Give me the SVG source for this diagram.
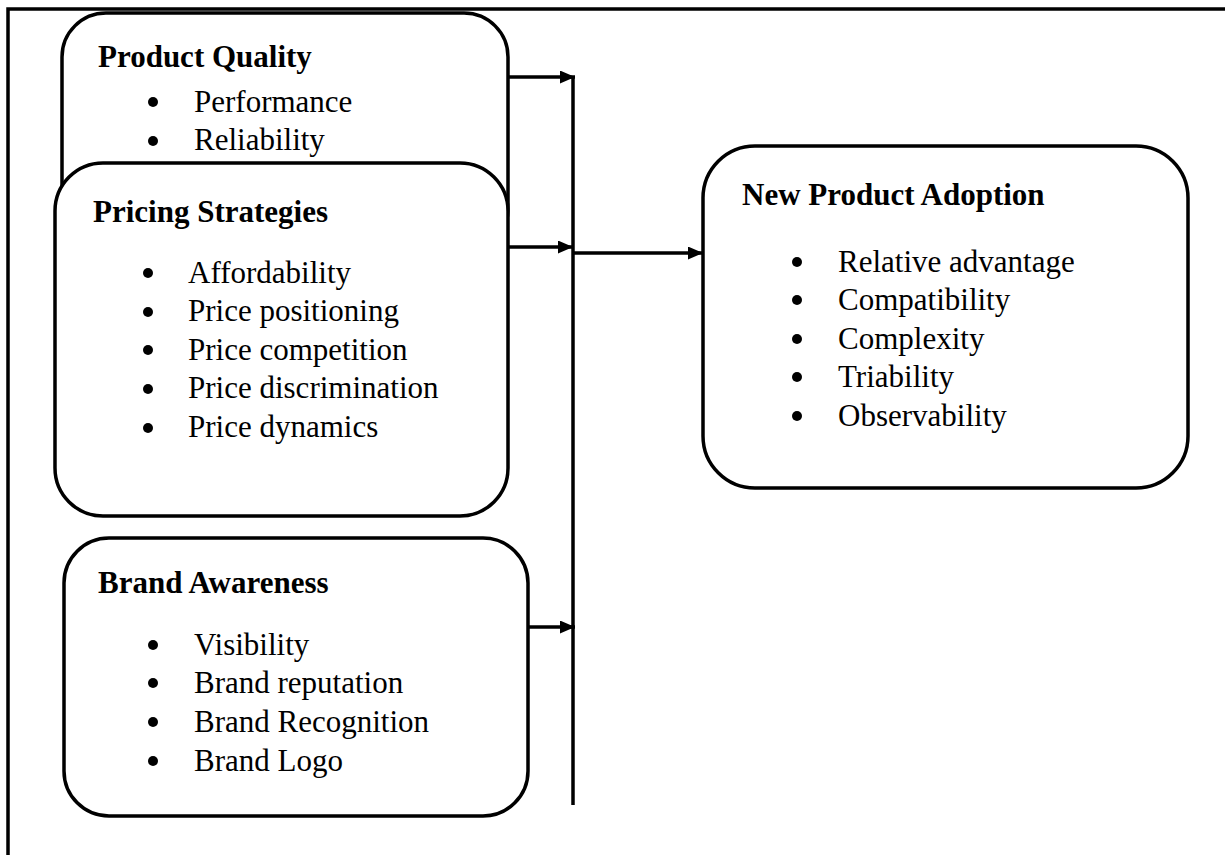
<svg xmlns="http://www.w3.org/2000/svg" width="1225" height="855" viewBox="0 0 1225 855">
  <defs>
    <style>
      .box { fill: #ffffff; stroke: #000000; stroke-width: 3.5; }
      .frame { fill: none; stroke: #000000; stroke-width: 3.5; }
      .link { fill: none; stroke: #000000; stroke-width: 3.5; }
      .title { font-family: "Liberation Serif", "Times New Roman", serif; font-size: 31px; font-weight: bold; fill: #000000; }
      .item { font-family: "Liberation Serif", "Times New Roman", serif; font-size: 31px; fill: #000000; }
      .dot { fill: #000000; }
    </style>
    <marker id="arrow" viewBox="0 0 15 13" refX="15" refY="6.5" markerWidth="15" markerHeight="13" markerUnits="userSpaceOnUse" orient="auto">
      <path d="M0,0 L15,6.5 L0,13 Z" fill="#000000"/>
    </marker>
  </defs>

  <rect width="1225" height="855" fill="#ffffff"/>

  <!-- page frame: top and left rules -->
  <path class="frame" d="M8,855 L8,9 L1225,9"/>

  <!-- Product Quality -->
  <g id="product-quality">
    <rect class="box" x="62" y="13" width="446" height="240" rx="44" ry="44"/>
    <text class="title" x="98" y="67">Product Quality</text>
    <circle class="dot" cx="153" cy="102" r="5"/>
    <text class="item" x="194" y="112">Performance</text>
    <circle class="dot" cx="153" cy="141" r="5"/>
    <text class="item" x="194" y="150">Reliability</text>
  </g>

  <!-- Pricing Strategies -->
  <g id="pricing-strategies">
    <rect class="box" x="55" y="163" width="453" height="353" rx="48" ry="48"/>
    <text class="title" x="93" y="222">Pricing Strategies</text>
    <circle class="dot" cx="148" cy="273" r="5"/>
    <text class="item" x="188" y="283">Affordability</text>
    <circle class="dot" cx="148" cy="312" r="5"/>
    <text class="item" x="188" y="321">Price positioning</text>
    <circle class="dot" cx="148" cy="350" r="5"/>
    <text class="item" x="188" y="360">Price competition</text>
    <circle class="dot" cx="148" cy="389" r="5"/>
    <text class="item" x="188" y="398">Price discrimination</text>
    <circle class="dot" cx="148" cy="428" r="5"/>
    <text class="item" x="188" y="437">Price dynamics</text>
  </g>

  <!-- Brand Awareness -->
  <g id="brand-awareness">
    <rect class="box" x="64" y="538" width="464" height="278" rx="45" ry="45"/>
    <text class="title" x="98" y="593">Brand Awareness</text>
    <circle class="dot" cx="153" cy="645" r="5"/>
    <text class="item" x="194" y="655">Visibility</text>
    <circle class="dot" cx="153" cy="683" r="5"/>
    <text class="item" x="194" y="693">Brand reputation</text>
    <circle class="dot" cx="153" cy="722" r="5"/>
    <text class="item" x="194" y="732">Brand Recognition</text>
    <circle class="dot" cx="153" cy="761" r="5"/>
    <text class="item" x="194" y="771">Brand Logo</text>
  </g>

  <!-- New Product Adoption -->
  <g id="new-product-adoption">
    <rect class="box" x="703" y="146" width="485" height="342" rx="52" ry="52"/>
    <text class="title" x="742" y="205">New Product Adoption</text>
    <circle class="dot" cx="797" cy="262" r="5"/>
    <text class="item" x="838" y="272">Relative advantage</text>
    <circle class="dot" cx="797" cy="300" r="5"/>
    <text class="item" x="838" y="310">Compatibility</text>
    <circle class="dot" cx="797" cy="339" r="5"/>
    <text class="item" x="838" y="349">Complexity</text>
    <circle class="dot" cx="797" cy="377" r="5"/>
    <text class="item" x="838" y="387">Triability</text>
    <circle class="dot" cx="797" cy="416" r="5"/>
    <text class="item" x="838" y="426">Observability</text>
  </g>

  <!-- connectors -->
  <g id="connectors">
    <line class="link" x1="573" y1="76" x2="573" y2="805"/>
    <line class="link" x1="508" y1="77" x2="575" y2="77" marker-end="url(#arrow)"/>
    <line class="link" x1="508" y1="247" x2="573" y2="247" marker-end="url(#arrow)"/>
    <line class="link" x1="528" y1="627" x2="575" y2="627" marker-end="url(#arrow)"/>
    <line class="link" x1="573" y1="253" x2="703" y2="253" marker-end="url(#arrow)"/>
  </g>
</svg>
